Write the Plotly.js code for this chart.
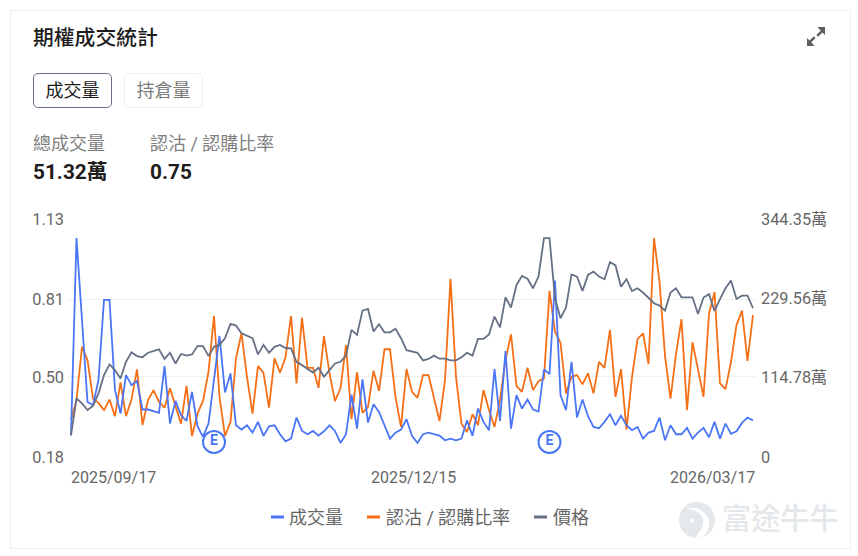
<!DOCTYPE html>
<html><head><meta charset="utf-8">
<script src="https://cdn.plot.ly/plotly-3.0.1.min.js"></script>
<style>
html,body{margin:0;padding:0;background:#fff;width:858px;height:556px;overflow:hidden;font-family:Roboto,"Noto Sans CJK TC",sans-serif}
#card{position:absolute;left:9.5px;top:10px;width:841.5px;height:538.5px;border:1px solid #eeeeee;box-sizing:border-box}
#plot{position:absolute;left:0;top:0;width:858px;height:556px}
.t{position:absolute;white-space:nowrap;line-height:1}
.btn{position:absolute;top:73px;height:35px;box-sizing:border-box;border-radius:5px;text-align:center;line-height:34.5px;font-size:18px}
</style></head><body>
<div id="plot"></div>
<div id="card" style="pointer-events:none"></div>
<div class="t" style="left:33px;top:27.5px;font-size:20.8px;font-weight:500;color:#1c1c1c">期權成交統計</div>
<svg style="position:absolute;left:805px;top:25px" width="22" height="23" viewBox="0 0 22 23" fill="#5f5f5f" stroke="none"><path d="M12.5 2h7.5v8l-2.6-2.6-4.3 4.3-1.7-1.7 4.3-4.3z"/><path d="M9.5 21H2v-8l2.6 2.6 4.3-4.3 1.7 1.7-4.3 4.3z"/></svg>
<div class="btn" style="left:33px;width:79px;border:1.5px solid #667085;color:#1c1c1c">成交量</div>
<div class="btn" style="left:124px;width:79px;border:1.5px solid #eeeeee;color:#7a7a7a">持倉量</div>
<div class="t" style="left:33px;top:135px;font-size:18px;color:#808080">總成交量</div>
<div class="t" style="left:150px;top:135px;font-size:18px;color:#808080">認沽 / 認購比率</div>
<div class="t" style="left:33px;top:161.5px;font-size:20.8px;font-weight:700;color:#1c1c1c">51.32萬</div>
<div class="t" style="left:150px;top:161.5px;font-size:20.8px;font-weight:700;color:#1c1c1c">0.75</div>
<svg style="position:absolute;left:678px;top:501px" width="38" height="38" viewBox="0 0 38 38"><circle cx="19" cy="19" r="18" fill="#e4e8eb"/><path d="M9 8c7 0 15 4 16 11 1 6-3 12-8 17 3 1 6 1 8 0 5-5 7-11 6-17C29 11 19 4 9 8z" fill="#fff"/><circle cx="14" cy="20" r="2" fill="#fff"/></svg>
<div class="t" style="left:722px;top:504.5px;font-size:29.2px;font-weight:500;color:#e4e8eb">富途牛牛</div>
<script>
var volume = [31.4,316.8,198.3,79.8,75.0,111.2,227.3,227.3,96.7,62.9,118.5,104.0,110.3,68.7,68.7,66.3,63.8,131.5,48.4,81.2,60.5,52.2,94.3,44.5,29.0,48.4,116.1,175.1,93.3,120.9,45.9,39.7,45.9,35.3,50.8,30.5,44.5,45.9,32.9,22.7,26.6,57.1,37.7,32.9,37.7,31.0,37.2,45.9,37.7,20.3,32.9,90.4,41.1,112.2,49.8,76.4,65.3,45.9,26.6,35.3,39.7,54.6,30.5,20.3,32.9,35.3,33.4,31.0,24.2,26.6,24.2,26.6,53.2,30.5,70.1,50.8,38.7,127.2,52.2,153.3,41.1,89.5,70.1,83.2,68.7,65.8,126.7,119.9,255.3,89.5,67.7,137.8,57.1,83.2,59.0,43.5,41.6,50.8,61.9,45.9,59.5,45.9,38.7,43.5,26.6,35.3,37.7,57.1,24.2,45.9,32.9,32.9,42.1,26.6,35.3,42.1,28.5,50.8,26.6,48.4,33.4,37.2,49.3,57.1,52.7];
var ratio = [0.329,0.407,0.620,0.567,0.413,0.396,0.367,0.409,0.343,0.478,0.343,0.409,0.530,0.307,0.407,0.447,0.400,0.377,0.454,0.380,0.313,0.464,0.264,0.353,0.404,0.520,0.743,0.420,0.264,0.320,0.574,0.674,0.500,0.353,0.543,0.516,0.377,0.574,0.516,0.578,0.743,0.474,0.736,0.536,0.536,0.456,0.663,0.514,0.403,0.454,0.627,0.331,0.518,0.356,0.380,0.524,0.444,0.610,0.610,0.420,0.300,0.531,0.440,0.416,0.507,0.507,0.420,0.324,0.487,0.891,0.500,0.313,0.280,0.351,0.307,0.447,0.367,0.300,0.407,0.567,0.670,0.463,0.440,0.536,0.447,0.483,0.494,0.843,0.680,0.636,0.434,0.500,0.507,0.470,0.514,0.434,0.560,0.536,0.687,0.420,0.531,0.289,0.500,0.650,0.674,0.551,1.054,0.880,0.584,0.413,0.591,0.730,0.367,0.638,0.530,0.420,0.751,0.838,0.474,0.451,0.560,0.707,0.764,0.564,0.746];
var price = [9.1,24.6,22.5,19.7,21.5,26.7,34.4,38.9,36.5,33.0,40.0,44.0,42.4,41.9,43.8,44.5,45.2,41.2,43.8,39.3,43.3,42.6,43.1,46.6,46.6,42.4,46.3,47.1,49.9,55.9,55.2,52.0,51.0,49.9,43.1,47.1,43.8,46.3,47.1,45.8,45.6,40.0,38.6,36.9,35.5,37.5,33.7,36.5,39.3,40.0,42.6,53.4,51.3,61.5,62.2,52.7,55.8,52.4,52.4,53.9,49.9,44.9,44.4,43.8,40.6,41.2,42.6,41.3,41.3,40.6,40.6,41.9,43.8,42.6,49.6,49.6,51.5,59.0,54.5,67.1,62.8,72.3,76.1,74.9,70.9,75.8,92.0,92.0,66.7,58.3,62.8,76.7,75.8,69.8,76.5,77.9,75.8,74.7,81.9,80.5,71.5,74.7,69.7,70.9,69.1,66.7,64.6,63.6,61.5,69.1,70.9,67.1,67.1,67.1,60.1,67.0,68.4,61.4,66.3,70.9,74.2,66.4,67.8,67.8,62.5];
var earningsIdx = [26,87];
var earningsRatio = [0.24,0.24];
var xTickIdx = [0,62,124];
var xTickText = ['2025/09/17','2025/12/15','2026/03/17'];
var ratioTicks = [0.18,0.50,0.81,1.13];
var volTicks = [0,114.78,229.56,344.35];
var volTickText = ['0','114.78萬','229.56萬','344.35萬'];
var seriesNames = ['成交量','認沽 / 認購比率','價格'];
var seriesColors = ['#4a76f6','#f56f16','#667085'];

var W=858,H=556;
var font='Roboto,"Noto Sans CJK TC",sans-serif';
var idx=volume.map(function(_,i){return i;});
function line(y,ax,c,n){return {x:idx,y:y,yaxis:ax,name:n,mode:'lines',line:{color:c,width:1.8,shape:'linear'},hoverinfo:'skip'};}
var traces=[
 line(price,'y3',seriesColors[2],seriesNames[2]),
 line(ratio,'y',seriesColors[1],seriesNames[1]),
 line(volume,'y2',seriesColors[0],seriesNames[0]),
 {x:earningsIdx,y:earningsRatio,yaxis:'y',mode:'markers+text',text:['<b>E</b>','<b>E</b>'],textposition:'middle center',
  textfont:{family:font,size:14,color:seriesColors[0]},
  marker:{size:22,color:'#ffffff',line:{color:seriesColors[0],width:2}},hoverinfo:'skip',showlegend:false}
];
var ann=[];
xTickIdx.forEach(function(v,i){
 ann.push({xref:'x',yref:'paper',x:v,y:(456.67-477)/237.33,text:xTickText[i],showarrow:false,xanchor:['left','center','right'][i],yanchor:'middle',xshift:[-2,1,4][i],
  font:{family:font,size:16,color:'#666666'}});
});
var lg=[[271,289],[367,386],[534,553]];
var shp=lg.map(function(p,i){return {type:'rect',xref:'paper',yref:'paper',
  x0:(p[0]-68)/688,x1:(p[0]+13-68)/688,
  y0:(456.67-518)/237.33,y1:(456.67-515)/237.33,fillcolor:seriesColors[i],line:{width:0}};});
lg.forEach(function(p,i){
 ann.push({xref:'paper',yref:'paper',x:(p[1]-68)/688,y:(456.67-517)/237.33,text:seriesNames[i],showarrow:false,xanchor:'left',yanchor:'middle',xshift:-2,
  font:{family:font,size:18,color:'#666666'}});
});
var layout={width:W,height:H,autosize:false,showlegend:false,paper_bgcolor:'rgba(0,0,0,0)',plot_bgcolor:'rgba(0,0,0,0)',
 margin:{l:68,r:102,t:219.33,b:99.33,pad:0},font:{family:font,size:16,color:'#666666'},
 xaxis:{range:[-0.545,124.545],showgrid:false,zeroline:false,showline:false,showticklabels:false,ticks:''},
 yaxis:{range:[0.18,1.13],tickvals:ratioTicks,ticktext:ratioTicks.map(function(v){return v.toFixed(2);}),gridcolor:'#f1f1f1',gridwidth:1,zeroline:false,showline:false,ticks:'',ticklabelstandoff:3,tickfont:{family:font,size:16.3,color:'#666666'}},
 yaxis2:{range:[0,344.35],overlaying:'y',side:'right',tickvals:volTicks,ticktext:volTickText,showgrid:false,zeroline:false,showline:false,ticks:'',ticklabelstandoff:4,tickfont:{family:font,size:16.3,color:'#666666'}},
 yaxis3:{range:[0,100],overlaying:'y',visible:false},
 annotations:ann,shapes:shp};
Plotly.newPlot('plot',traces,layout,{displayModeBar:false,staticPlot:true});
</script>
</body></html>
